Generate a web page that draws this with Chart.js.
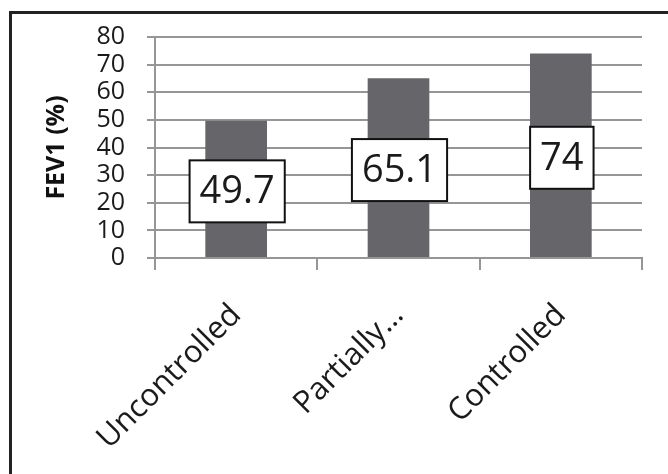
<!DOCTYPE html>
<html>
<head>
<meta charset="utf-8">
<script src="https://cdn.jsdelivr.net/npm/chart.js@4/dist/chart.umd.min.js"></script>
<style>
  html, body { margin: 0; padding: 0; background: #fff; }
  #wrap { position: relative; width: 668px; height: 474px; overflow: hidden; }
  #frame { position: absolute; left: 9px; top: 11px; width: 700px; height: 500px;
           border-left: 3px solid #222; border-top: 3px solid #222; pointer-events: none; }
  canvas { position: absolute; left: 0; top: 0; }
</style>
</head>
<body>
<div id="wrap">
  <canvas id="chart" width="668" height="474"></canvas>
  <div id="frame"></div>
</div>
<script>
// data
const categories = ["Uncontrolled", "Partially…", "Controlled"];
const fev1 = [49.7, 65.1, 74];
const yTicks = [0, 10, 20, 30, 40, 50, 60, 70, 80];

const FONT = "'Open Sans', 'DejaVu Sans', sans-serif";
const gridGray = "rgb(150,150,150)";

// boxed value labels in the middle of each bar
const boxLabels = {
    id: "boxLabels",
    afterDatasetsDraw(chart) {
        const ctx = chart.ctx;
        const meta = chart.getDatasetMeta(0);
        const yScale = chart.scales.y;
        ctx.save();
        ctx.font = "38px " + FONT;
        ctx.textAlign = "center";
        ctx.textBaseline = "middle";
        meta.data.forEach((bar, i) => {
            const txt = String(fev1[i]);
            const cy = (bar.y + yScale.getPixelForValue(0)) / 2 + 2;
            const w = ctx.measureText(txt).width + 20;
            const h = 62;
            ctx.fillStyle = "#fff";
            ctx.fillRect(bar.x + 1 - w / 2, cy - h / 2, w, h);
            ctx.lineWidth = 2;
            ctx.strokeStyle = "#111";
            ctx.strokeRect(bar.x + 1 - w / 2, cy - h / 2, w, h);
            ctx.fillStyle = "#1a1a1a";
            ctx.fillText(txt, bar.x + 1, cy + 1);
        });
        ctx.restore();
    }
};

new Chart(document.getElementById("chart"), {
    type: "bar",
    data: {
        labels: categories,
        datasets: [{
            data: fev1,
            backgroundColor: "rgb(102,102,106)",
            borderWidth: 0,
            categoryPercentage: 1,
            barPercentage: 0.38
        }]
    },
    options: {
        responsive: false,
        animation: false,
        layout: { padding: { top: 36, right: 26, left: 0, bottom: 0 } },
        plugins: { legend: { display: false }, tooltip: { enabled: false } },
        scales: {
            x: {
                afterFit: s => { s.height = 216; },
                grid: { offset: true, drawOnChartArea: false, tickLength: 12, color: gridGray, lineWidth: 2 },
                border: { color: gridGray, width: 2 },
                ticks: {
                    font: { family: FONT, size: 31 },
                    color: "#1a1a1a",
                    maxRotation: 45, minRotation: 45,
                    padding: 27,
                    autoSkip: false
                }
            },
            y: {
                min: 0, max: 80,
                afterFit: s => { s.width = 155; },
                afterBuildTicks: s => { s.ticks = yTicks.map(v => ({ value: v })); },
                grid: { tickLength: 8, color: gridGray, lineWidth: 2 },
                border: { color: gridGray, width: 2 },
                ticks: {
                    font: { family: FONT, size: 25 },
                    color: "#1a1a1a",
                    padding: 22,
                    autoSkip: false
                },
                title: {
                    display: true,
                    text: "FEV1 (%)",
                    font: { family: FONT, size: 25, weight: "bold" },
                    color: "#111",
                    padding: { top: 42, bottom: 0 }
                }
            }
        }
    },
    plugins: [boxLabels]
});
</script>
</body>
</html>
